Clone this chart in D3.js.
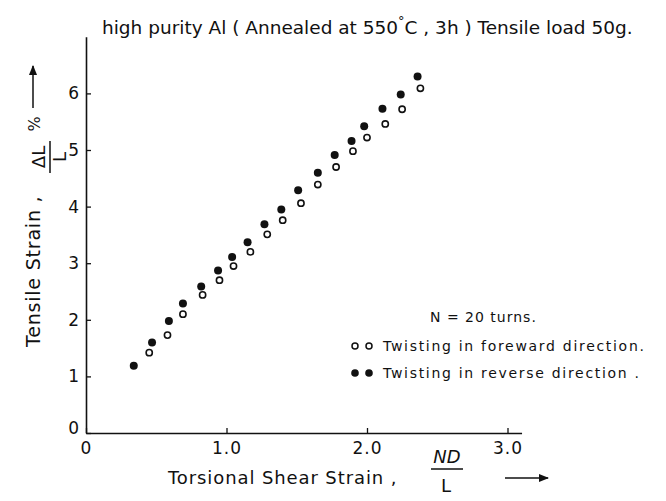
<!DOCTYPE html>
<html>
<head>
<meta charset="utf-8">
<script src="https://cdn.jsdelivr.net/npm/d3@7"></script>
<style>
  body { margin: 0; background: #fff; }
  text { font-family: "DejaVu Sans", sans-serif; fill: #111; }
</style>
</head>
<body>
<div id="chart"></div>
<script>
// set the dimensions of the page
var width = 666;
var height = 501;

// data (N = 20 turns)
// forward twisting (open circles)
var forwardStrain = [0.45, 0.58, 0.69, 0.83, 0.95, 1.05, 1.17, 1.29, 1.40, 1.53, 1.65, 1.78, 1.90, 2.00, 2.13, 2.25, 2.38];
var forwardTensile = [1.42, 1.73, 2.10, 2.44, 2.70, 2.95, 3.20, 3.51, 3.76, 4.06, 4.39, 4.70, 4.98, 5.22, 5.46, 5.72, 6.09];
// reverse twisting (filled circles)
var reverseStrain = [0.34, 0.47, 0.59, 0.69, 0.82, 0.94, 1.04, 1.15, 1.27, 1.39, 1.51, 1.65, 1.77, 1.89, 1.98, 2.11, 2.24, 2.36];
var reverseTensile = [1.19, 1.60, 1.98, 2.29, 2.59, 2.87, 3.11, 3.37, 3.69, 3.95, 4.29, 4.60, 4.91, 5.16, 5.42, 5.73, 5.98, 6.30];

var xTicks = [0, 1, 2, 3];
var xTickLabels = ["0", "1.0", "2.0", "3.0"];
var yTicks = [0, 1, 2, 3, 4, 5, 6];

var legendNote = "N = 20 turns.";
var legendLabels = ["Twisting in foreward direction.", "Twisting in reverse direction ."];
var legendFilled = [false, true];

var svg = d3.select("#chart")
    .append("svg")
        .attr("width", width)
        .attr("height", height);

var defs = svg.append("defs");
defs.append("marker")
    .attr("id", "head")
    .attr("viewBox", "0 0 10 10")
    .attr("refX", 9)
    .attr("refY", 5)
    .attr("markerWidth", 7)
    .attr("markerHeight", 7)
    .attr("orient", "auto")
  .append("path")
    .attr("d", "M0,1L10,5L0,9Z")
    .style("fill", "#111");

var x = d3.scaleLinear()
    .domain([0, 3.1])
    .range([86, 86 + 3.1 * 140.5]);

var y = d3.scaleLinear()
    .domain([0, 7])
    .range([433, 433 - 7 * 56.6]);

// x axis, ticks pointing inside
var xAxis = svg.append("g")
    .attr("transform", "translate(0," + y(0) + ")")
    .call(d3.axisBottom(x)
        .tickValues(xTicks)
        .tickSize(-5)
        .tickSizeOuter(0)
        .tickPadding(7)
        .tickFormat(function(d, i) { return xTickLabels[i]; }));
xAxis.select(".domain").style("stroke", "#111").style("stroke-width", 1.6);
xAxis.selectAll(".tick line").style("stroke", "#111").style("stroke-width", 1.3);
xAxis.selectAll(".tick text").style("font-size", "17px").style("letter-spacing", "1px").attr("dy", "0.85em");

var yAxis = svg.append("g")
    .attr("transform", "translate(" + x(0) + ",0)")
    .call(d3.axisLeft(y)
        .tickValues(yTicks)
        .tickSize(-5)
        .tickSizeOuter(0)
        .tickPadding(7)
        .tickFormat(d3.format("d")));
yAxis.select(".domain").style("stroke", "#111").style("stroke-width", 1.6);
yAxis.selectAll(".tick line").style("stroke", "#111").style("stroke-width", 1.3);
yAxis.selectAll(".tick text").style("font-size", "17px");
yAxis.selectAll(".tick").filter(function(d) { return d == 0; })
    .select("text").attr("dy", "0.05em");

// title
var title = svg.append("text")
    .attr("x", 102)
    .attr("y", 34)
    .style("font-size", "18.5px");
title.append("tspan").text("high  purity Al ( Annealed at 550");
title.append("tspan").attr("dy", -9).style("font-size", "13px").text("\u00b0");
title.append("tspan").attr("dy", 9).text("C  , 3h )  Tensile  load  50g.");

// x axis label
svg.append("text")
    .attr("x", 168)
    .attr("y", 484)
    .style("font-size", "18px")
    .style("letter-spacing", "0.9px")
    .text("Torsional  Shear  Strain  ,");
svg.append("text")
    .attr("x", 447)
    .attr("y", 463)
    .attr("text-anchor", "middle")
    .style("font-size", "18px")
    .style("font-style", "italic")
    .text("ND");
svg.append("line")
    .attr("x1", 431).attr("x2", 463)
    .attr("y1", 469).attr("y2", 469)
    .style("stroke", "#111").style("stroke-width", 1.5);
svg.append("text")
    .attr("x", 446)
    .attr("y", 492)
    .attr("text-anchor", "middle")
    .style("font-size", "18px")
    .text("L");
svg.append("line")
    .attr("x1", 505).attr("x2", 548)
    .attr("y1", 478).attr("y2", 478)
    .attr("marker-end", "url(#head)")
    .style("stroke", "#111").style("stroke-width", 1.5);

// y axis label, rotated
var ylab = svg.append("g")
    .attr("transform", "rotate(-90)");
ylab.append("text")
    .attr("x", -347)
    .attr("y", 40)
    .style("font-size", "19px")
    .style("letter-spacing", "0.8px")
    .text("Tensile Strain ,");
ylab.append("text")
    .attr("x", -157)
    .attr("y", 45)
    .attr("text-anchor", "middle")
    .style("font-size", "18px")
    .text("\u0394L");
ylab.append("line")
    .attr("x1", -173).attr("x2", -141)
    .attr("y1", 50).attr("y2", 50)
    .style("stroke", "#111").style("stroke-width", 1.5);
ylab.append("text")
    .attr("x", -157)
    .attr("y", 66)
    .attr("text-anchor", "middle")
    .style("font-size", "18px")
    .text("L");
ylab.append("text")
    .attr("x", -124)
    .attr("y", 40)
    .attr("text-anchor", "middle")
    .style("font-size", "16px")
    .text("%");
ylab.append("line")
    .attr("x1", -108).attr("x2", -66)
    .attr("y1", 33).attr("y2", 33)
    .attr("marker-end", "url(#head)")
    .style("stroke", "#111").style("stroke-width", 1.5);

// points
var forward = forwardStrain.map(function(d, i) { return {x: d, y: forwardTensile[i]}; });
var reverse = reverseStrain.map(function(d, i) { return {x: d, y: reverseTensile[i]}; });

svg.selectAll("fwd")
    .data(forward)
    .enter()
    .append("circle")
    .attr("cx", function(d) { return x(d.x); })
    .attr("cy", function(d) { return y(d.y); })
    .attr("r", 3.1)
    .style("fill", "#fff")
    .style("stroke", "#111")
    .style("stroke-width", 1.6);

svg.selectAll("rev")
    .data(reverse)
    .enter()
    .append("circle")
    .attr("cx", function(d) { return x(d.x); })
    .attr("cy", function(d) { return y(d.y); })
    .attr("r", 4)
    .style("fill", "#111");

// legend
svg.append("text")
    .attr("x", 430)
    .attr("y", 322)
    .style("font-size", "14px")
    .style("letter-spacing", "1px")
    .text(legendNote);

var leg = svg.selectAll("leg")
    .data(legendLabels)
    .enter()
    .append("g")
    .attr("transform", function(d, i) { return "translate(355," + (346 + i * 27) + ")"; });

leg.each(function(d, i) {
    var g = d3.select(this);
    [0, 14].forEach(function(dx) {
        g.append("circle")
            .attr("cx", dx)
            .attr("cy", 0)
            .attr("r", legendFilled[i] ? 3.8 : 3)
            .style("fill", legendFilled[i] ? "#111" : "#fff")
            .style("stroke", "#111")
            .style("stroke-width", legendFilled[i] ? 0 : 1.5);
    });
    g.append("text")
        .attr("x", 28)
        .attr("y", 5)
        .style("font-size", "14px")
        .style("letter-spacing", "1.7px")
        .text(d);
});
</script>
</body>
</html>
